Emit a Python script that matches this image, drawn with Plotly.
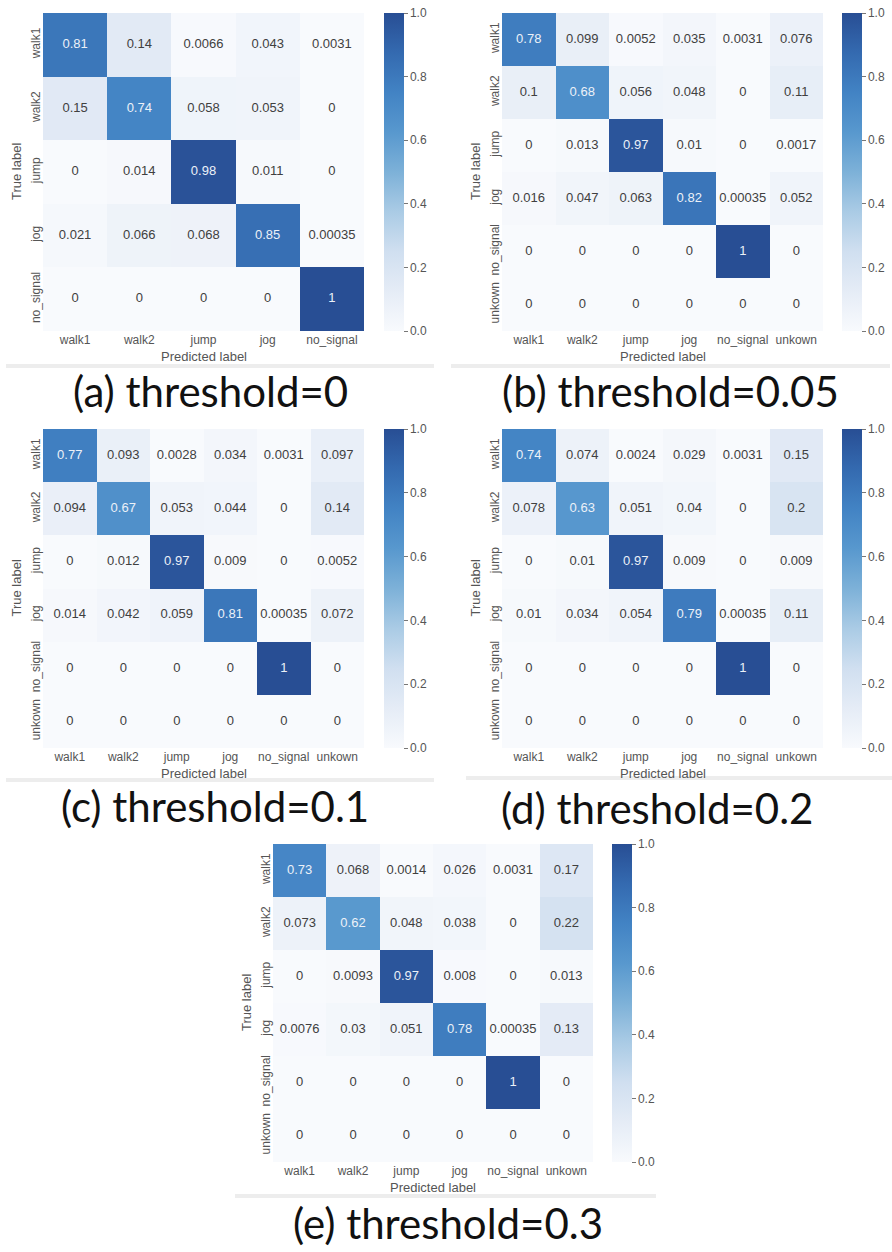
import plotly.graph_objects as go

W, H = 892, 1252

labels5 = ["walk1", "walk2", "jump", "jog", "no_signal"]
labels6 = ["walk1", "walk2", "jump", "jog", "no_signal", "unkown"]

cm_a = [[0.81, 0.14, 0.0066, 0.043, 0.0031],
        [0.15, 0.74, 0.058, 0.053, 0],
        [0, 0.014, 0.98, 0.011, 0],
        [0.021, 0.066, 0.068, 0.85, 0.00035],
        [0, 0, 0, 0, 1]]
cm_b = [[0.78, 0.099, 0.0052, 0.035, 0.0031, 0.076],
        [0.1, 0.68, 0.056, 0.048, 0, 0.11],
        [0, 0.013, 0.97, 0.01, 0, 0.0017],
        [0.016, 0.047, 0.063, 0.82, 0.00035, 0.052],
        [0, 0, 0, 0, 1, 0],
        [0, 0, 0, 0, 0, 0]]
cm_c = [[0.77, 0.093, 0.0028, 0.034, 0.0031, 0.097],
        [0.094, 0.67, 0.053, 0.044, 0, 0.14],
        [0, 0.012, 0.97, 0.009, 0, 0.0052],
        [0.014, 0.042, 0.059, 0.81, 0.00035, 0.072],
        [0, 0, 0, 0, 1, 0],
        [0, 0, 0, 0, 0, 0]]
cm_d = [[0.74, 0.074, 0.0024, 0.029, 0.0031, 0.15],
        [0.078, 0.63, 0.051, 0.04, 0, 0.2],
        [0, 0.01, 0.97, 0.009, 0, 0.009],
        [0.01, 0.034, 0.054, 0.79, 0.00035, 0.11],
        [0, 0, 0, 0, 1, 0],
        [0, 0, 0, 0, 0, 0]]
cm_e = [[0.73, 0.068, 0.0014, 0.026, 0.0031, 0.17],
        [0.073, 0.62, 0.048, 0.038, 0, 0.22],
        [0, 0.0093, 0.97, 0.008, 0, 0.013],
        [0.0076, 0.03, 0.051, 0.78, 0.00035, 0.13],
        [0, 0, 0, 0, 1, 0],
        [0, 0, 0, 0, 0, 0]]

captions = ["(a) threshold=0", "(b) threshold=0.05", "(c) threshold=0.1",
            "(d) threshold=0.2", "(e) threshold=0.3"]
cbar_ticks = [0.0, 0.2, 0.4, 0.6, 0.8, 1.0]

colorscale = [
    [0.0, "rgb(248,250,253)"],
    [0.125, "rgb(229,236,246)"],
    [0.25, "rgb(208,223,240)"],
    [0.375, "rgb(170,203,229)"],
    [0.5, "rgb(125,177,216)"],
    [0.625, "rgb(88,152,206)"],
    [0.75, "rgb(66,131,196)"],
    [0.875, "rgb(52,106,176)"],
    [1.0, "rgb(40,78,148)"],
]

# layout geometry (pixels): heatmap box [x0,x1,y0,y1], colorbar x, caption centre
panels = [
    dict(cm=cm_a, labels=labels5, box=(43, 364, 13, 331), cbx=384, cap=(210, 391), sep=(6, 434, 365)),
    dict(cm=cm_b, labels=labels6, box=(502, 823, 13, 331), cbx=842, cap=(670, 391), sep=(451, 890, 365)),
    dict(cm=cm_c, labels=labels6, box=(43, 364, 429, 748), cbx=384, cap=(215, 806), sep=(6, 434, 779)),
    dict(cm=cm_d, labels=labels6, box=(502, 823, 429, 748), cbx=842, cap=(657, 808), sep=(466, 892, 777)),
    dict(cm=cm_e, labels=labels6, box=(273, 593, 844, 1162), cbx=612, cap=(448, 1223), sep=(235, 656, 1195)),
]

def px(x):
    return x / W

def py(y):
    return 1 - y / H

fig = go.Figure()
annotations = []
shapes = []
tick_font = dict(family="Arial, Liberation Sans, sans-serif", size=12, color="#555555")
label_font = dict(family="Arial, Liberation Sans, sans-serif", size=13, color="#555555")

for i, p in enumerate(panels):
    n = i + 1
    xa = "x" if n == 1 else f"x{n}"
    ya = "y" if n == 1 else f"y{n}"
    x0, x1, y0, y1 = p["box"]
    labs = p["labels"]
    cm = p["cm"]
    fig.add_trace(go.Heatmap(
        z=cm, x=labs, y=labs, xaxis=xa, yaxis=ya,
        zmin=0, zmax=1, colorscale=colorscale, hoverinfo="skip",
        colorbar=dict(
            x=px(p["cbx"]), xanchor="left", y=py(y0), yanchor="top",
            len=(y1 - y0) / H, lenmode="fraction", thickness=20, thicknessmode="pixels",
            outlinewidth=0, xpad=0, ypad=0,
            tickvals=cbar_ticks, ticktext=[f"{t:.1f}" for t in cbar_ticks],
            ticks="outside", ticklen=4, tickcolor="#777777", tickwidth=1,
            tickfont=tick_font,
        ),
    ))
    xs, ys, ts, cs = [], [], [], []
    for r, row in enumerate(cm):
        for c, v in enumerate(row):
            xs.append(labs[c])
            ys.append(labs[r])
            ts.append(format(v, "g"))
            cs.append("rgb(236,241,248)" if v > 0.5 else "rgb(64,64,64)")
    fig.add_trace(go.Scatter(
        x=xs, y=ys, xaxis=xa, yaxis=ya, mode="text", text=ts,
        textfont=dict(family="Arial, Liberation Sans, sans-serif", size=13, color=cs),
        hoverinfo="skip", showlegend=False,
    ))
    axkey_x = "xaxis" if n == 1 else f"xaxis{n}"
    axkey_y = "yaxis" if n == 1 else f"yaxis{n}"
    fig.update_layout(**{
        axkey_x: dict(domain=[px(x0), px(x1)], anchor=ya, type="category",
                      categoryorder="array", categoryarray=labs,
                      showgrid=False, zeroline=False, showline=False, ticks="",
                      tickfont=tick_font, automargin=False, fixedrange=True),
        axkey_y: dict(domain=[py(y1), py(y0)], anchor=xa, type="category",
                      categoryorder="array", categoryarray=labs, autorange="reversed",
                      showgrid=False, zeroline=False, showline=False, ticks="",
                      tickangle=-90, tickfont=tick_font, automargin=False, fixedrange=True),
    })
    # axis titles
    annotations.append(dict(x=px((x0 + x1) / 2), y=py(y1 + 25), xref="paper", yref="paper",
                            text="Predicted label", showarrow=False, font=label_font,
                            xanchor="center", yanchor="middle"))
    annotations.append(dict(x=px(x0 - 27), y=py((y0 + y1) / 2), xref="paper", yref="paper",
                            text="True label", showarrow=False, font=label_font, textangle=-90,
                            xanchor="center", yanchor="middle"))
    # caption
    annotations.append(dict(x=px(p["cap"][0]), y=py(p["cap"][1]), xref="paper", yref="paper",
                            text=captions[i], showarrow=False,
                            font=dict(family="Lato, Carlito, sans-serif", size=42, color="#111111"),
                            xanchor="center", yanchor="middle"))
    sx0, sx1, sy = p["sep"]
    shapes.append(dict(type="rect", xref="paper", yref="paper",
                       x0=px(sx0), x1=px(sx1), y0=py(sy + 3), y1=py(sy - 1),
                       fillcolor="rgba(0,0,0,0.07)", line=dict(width=0), layer="below"))

fig.update_layout(
    width=W, height=H, margin=dict(l=0, r=0, t=0, b=0),
    paper_bgcolor="white", plot_bgcolor="white",
    showlegend=False, annotations=annotations, shapes=shapes,
)

fig.write_html("out.html")
